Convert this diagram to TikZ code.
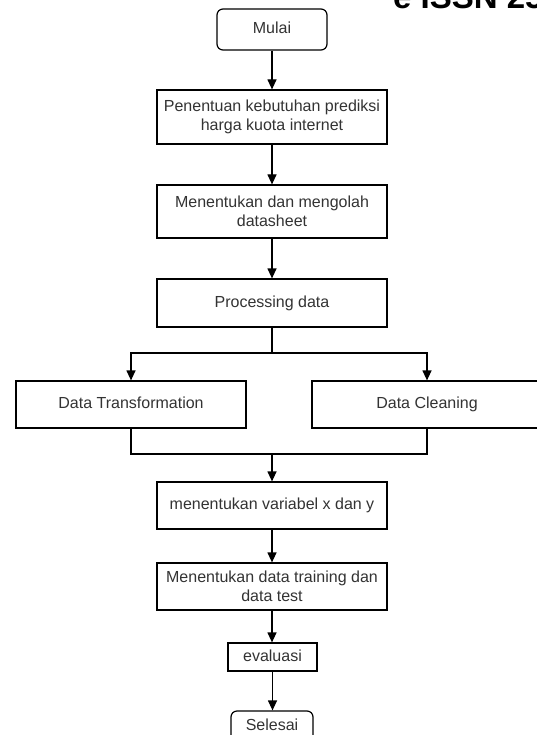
\documentclass[tikz,border=0pt]{standalone}
\usepackage{fontspec}
\setmainfont{Liberation Sans}
\usetikzlibrary{arrows.meta}
\definecolor{txt}{HTML}{333333}
\tikzset{
  box/.style={draw=black, line width=1.2pt, fill=white, text=txt, align=center,
    inner sep=0pt, font=\fontsize{16}{19}\selectfont},
  one/.style={text height=11.5pt, text depth=3.5pt},
  rbox/.style={box, rounded corners=6pt},
  conn/.style={draw=black, line width=1.2pt},
  arr/.style={conn, -{Triangle[length=10pt,width=9pt]}}
}
\begin{document}
\begin{tikzpicture}[x=1pt,y=-1pt]
\useasboundingbox (0,0) rectangle (537,735);
\clip (0,0) rectangle (537,735);
\fill[white] (0,0) rectangle (537,735);
\node[anchor=base west, inner sep=0pt, font=\fontsize{33}{38}\selectfont\bfseries] (hdr) at (393,9) {e ISSN 2548};

\node[rbox, one, minimum width=110pt, minimum height=41pt] (mulai) at (272,29.5) {Mulai};
\node[box, minimum width=230pt, minimum height=54pt] (b2) at (272,117) {Penentuan kebutuhan prediksi\\harga kuota internet};
\node[box, minimum width=230pt, minimum height=53pt] (b3) at (272,211.5) {Menentukan dan mengolah\\datasheet};
\node[box, one, minimum width=230pt, minimum height=48pt] (proc) at (272,303) {Processing data};
\node[box, one, minimum width=230pt, minimum height=47pt] (dt) at (131,404.5) {Data Transformation};
\node[box, one, minimum width=230pt, minimum height=47pt] (dc) at (427,404.5) {Data Cleaning};
\node[box, one, minimum width=230pt, minimum height=47pt] (var) at (272,505.5) {menentukan variabel x dan y};
\node[box, minimum width=230pt, minimum height=47pt] (train) at (272,586.5) {Menentukan data training dan\\data test};
\node[box, one, minimum width=89pt, minimum height=28pt] (eval) at (272.5,657) {evaluasi};
\node[rbox, one, minimum width=82pt, minimum height=30pt] (sel) at (272,726) {Selesai};

\coordinate (split) at (272,353);
\coordinate (merge) at (272,454);

\draw[arr] (mulai.south) -- (b2.north);
\draw[arr] (b2.south) -- (b3.north);
\draw[arr] (b3.south) -- (proc.north);
\draw[conn] (proc.south) -- (split);
\draw[arr] (split) -| (dt.north);
\draw[arr] (split) -| (dc.north);
\draw[conn] (dt.south) |- (merge) -| (dc.south);
\draw[arr] (merge) -- (var.north);
\draw[arr] (var.south) -- (train.north);
\draw[arr] (train.south) -- (train.south |- eval.north);
\draw[arr] (eval.south) -- (eval.south |- sel.north);
\end{tikzpicture}
\end{document}
